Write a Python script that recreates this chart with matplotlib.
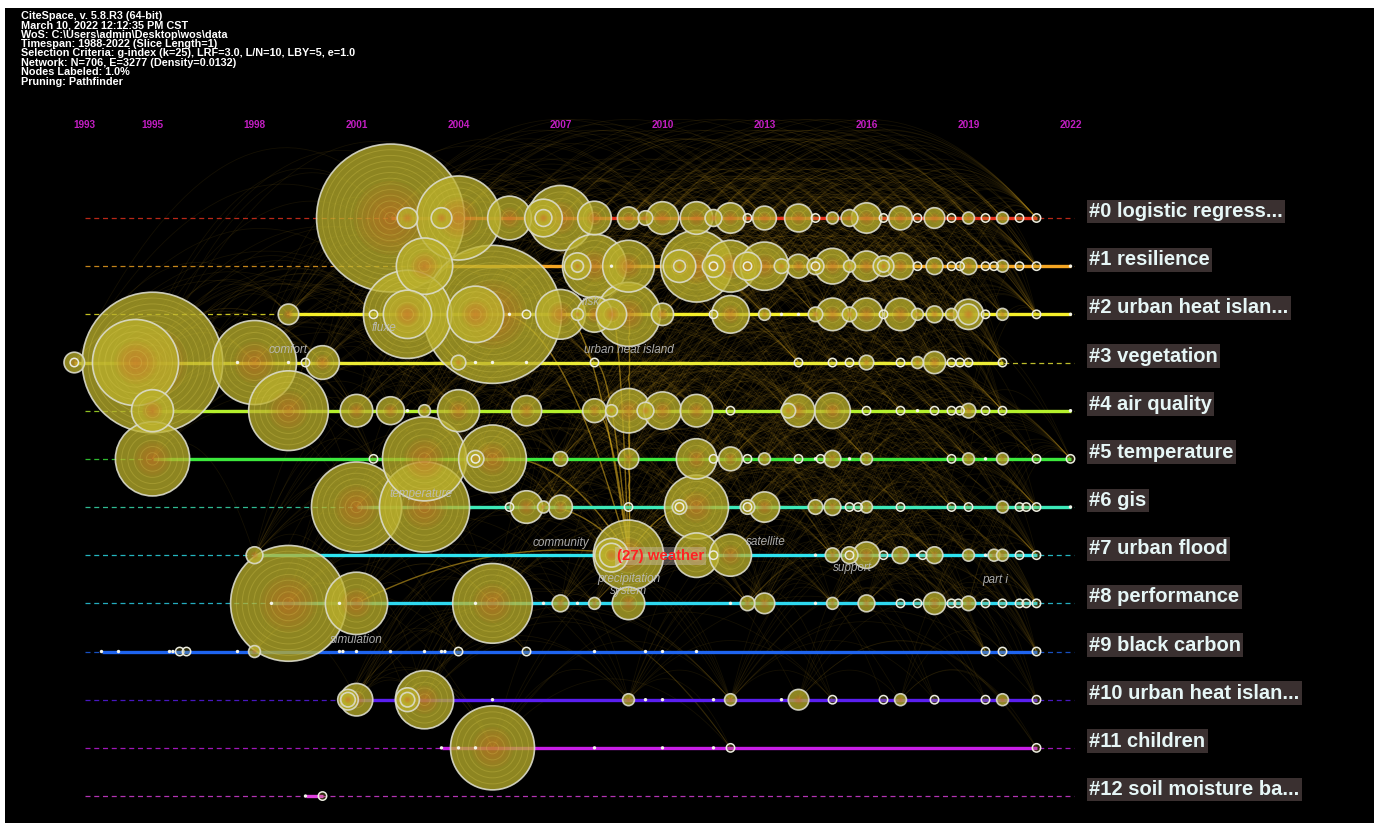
import numpy as np
import matplotlib.pyplot as plt
from matplotlib.patches import Ellipse
from matplotlib.collections import LineCollection

plt.rcParams['font.family'] = ['Liberation Sans', 'DejaVu Sans']

header = [
    "CiteSpace, v. 5.8.R3 (64-bit)",
    "March 10, 2022 12:12:35 PM CST",
    "WoS: C:\\Users\\admin\\Desktop\\wos\\data",
    "Timespan: 1988-2022 (Slice Length=1)",
    "Selection Criteria: g-index (k=25), LRF=3.0, L/N=10, LBY=5, e=1.0",
    "Network: N=706, E=3277 (Density=0.0132)",
    "Nodes Labeled: 1.0%",
    "Pruning: Pathfinder",
]

tick_years = [1993, 1995, 1998, 2001, 2004, 2007, 2010, 2013, 2016, 2019, 2022]

cluster_labels = [
    "#0 logistic regress...", "#1 resilience", "#2 urban heat islan...",
    "#3 vegetation", "#4 air quality", "#5 temperature", "#6 gis",
    "#7 urban flood", "#8 performance", "#9 black carbon",
    "#10 urban heat islan...", "#11 children", "#12 soil moisture ba...",
]

# publication year and citation count of each node, per cluster
years0 = [2002, 2002.5, 2003.5, 2004, 2005.5, 2006.5, 2006.5, 2007, 2008, 2009, 2009.5, 2010,
          2011, 2011.5, 2012, 2012.5, 2013, 2014, 2014.5, 2015, 2015.5, 2016, 2016.5, 2017,
          2017.5, 2018, 2018.5, 2019, 2019.5, 2020, 2020.5, 2021]
cites0 = [310, 6, 6, 100, 27, 20, 4, 60, 16, 7, 3, 15, 15, 4, 13, 1, 8, 11, 1, 2, 4, 13, 1, 8,
          1, 6, 1, 2, 1, 2, 1, 1]

years1 = [2003, 2007.5, 2007.5, 2008, 2008.5, 2009, 2010.5, 2010.5, 2011, 2011.5, 2011.5, 2012,
          2012.5, 2012.5, 2013, 2013.5, 2014, 2014.5, 2014.5, 2015, 2015.5, 2016, 2016.5, 2016.5,
          2017, 2017.5, 2018, 2018.5, 2018.75, 2019, 2019.5, 2019.75, 2020, 2020.5, 2021, 2022]
cites1 = [45, 10, 2, 58, 0, 38, 15, 2, 73, 7, 1, 38, 11, 1, 33, 3, 8, 4, 1, 18, 2, 13, 6, 2,
          10, 1, 4, 1, 1, 4, 1, 1, 2, 1, 1, 0]

years2 = [1999, 2001.5, 2002.5, 2002.5, 2004.5, 2005, 2005.5, 2006, 2007, 2007.5, 2008, 2008.5,
          2009, 2010, 2011.5, 2012, 2013, 2013.5, 2014, 2014.5, 2015, 2015.5, 2016, 2016.5,
          2017, 2017.5, 2018, 2018.5, 2019, 2019, 2019.5, 2020, 2021, 2022]
cites2 = [6, 1, 110, 33, 45, 270, 0, 1, 35, 2, 18, 13, 58, 7, 1, 20, 2, 0, 0, 3, 15, 3, 15, 1,
          15, 2, 4, 2, 13, 6, 1, 2, 1, 0]

years3 = [1992.7, 1992.7, 1994.5, 1995, 1997.5, 1998, 1999, 1999.5, 2000, 2004, 2004.5, 2005,
          2006, 2008, 2014, 2015, 2015.5, 2016, 2017, 2017.5, 2018, 2018.5, 2018.75, 2019, 2020]
cites3 = [6, 1, 105, 280, 0, 100, 0, 1, 16, 3, 0, 0, 0, 1, 1, 1, 1, 3, 1, 2, 7, 1, 1, 1, 1]

years4 = [1995, 1999, 2001, 2002, 2002.5, 2003, 2004, 2006, 2008, 2008.5, 2009, 2009.5, 2010,
          2011, 2012, 2013.7, 2014, 2015, 2016, 2017, 2017.5, 2018, 2018.5, 2018.75, 2019,
          2019.5, 2020, 2022]
cites4 = [25, 90, 15, 11, 0, 2, 25, 13, 8, 2, 28, 4, 20, 15, 1, 3, 15, 18, 1, 1, 0, 1, 1, 1, 3,
          1, 1, 0]

years5 = [1995, 2001.5, 2003, 2004.5, 2004.5, 2005, 2007, 2009, 2011, 2011.5, 2012, 2012.5,
          2013, 2014, 2014.5, 2014.65, 2015, 2015.5, 2016, 2018.5, 2019, 2019.5, 2020, 2021, 2022]
cites5 = [78, 1, 100, 4, 1, 65, 3, 6, 23, 1, 8, 1, 2, 1, 0, 1, 4, 0, 2, 1, 2, 0, 2, 1, 1]

years6 = [2001, 2003, 2005.5, 2006, 2006.5, 2007, 2009, 2010.5, 2010.5, 2011, 2012.5, 2012.5,
          2013, 2014.5, 2015, 2015.5, 2015.75, 2016, 2017, 2018.5, 2019, 2020, 2020.5, 2020.7,
          2021, 2022]
cites6 = [115, 115, 1, 15, 2, 8, 1, 3, 1, 58, 3, 1, 13, 3, 4, 1, 1, 2, 1, 1, 1, 2, 1, 1, 1, 0]

years7 = [1998, 2008.5, 2008.5, 2009, 2011, 2011.5, 2012, 2014.5, 2015, 2015.5, 2015.5, 2016,
          2016.5, 2017, 2017.5, 2017.65, 2018, 2019, 2019.5, 2019.75, 2020, 2020.5, 2021]
cites7 = [4, 16, 8, 70, 28, 1, 25, 0, 3, 4, 1, 10, 1, 4, 0, 1, 4, 2, 0, 2, 2, 1, 1]

years8 = [1998.5, 1999, 2000.5, 2001, 2004.5, 2005, 2006.5, 2007, 2007.5, 2008, 2009, 2012,
          2012.5, 2013, 2014.5, 2015, 2016, 2017, 2017.5, 2018, 2018.5, 2018.7, 2019, 2019.5,
          2020, 2020.5, 2020.7, 2021]
cites8 = [0, 190, 0, 55, 0, 90, 0, 4, 0, 2, 15, 0, 3, 6, 0, 2, 4, 1, 1, 7, 1, 1, 3, 1, 1, 1, 1, 1]

years9 = [1993.5, 1994, 1995.5, 1995.6, 1995.8, 1996, 1997.5, 1998, 2000.5, 2000.6, 2001, 2002,
          2003, 2003.5, 2003.6, 2004, 2006, 2008, 2009.5, 2010, 2011, 2019.5, 2020, 2021]
cites9 = [0, 0, 0, 0, 1, 1, 0, 2, 0, 0, 0, 0, 0, 0, 0, 1, 1, 0, 0, 0, 0, 1, 1, 1]

years10 = [2000.75, 2000.75, 2001, 2002.5, 2002.5, 2003, 2005, 2009, 2009.5, 2010, 2011.5, 2012,
           2013.5, 2014, 2015, 2016.5, 2017, 2018, 2019.5, 2020, 2021]
cites10 = [6, 3, 15, 8, 3, 48, 0, 2, 0, 0, 0, 2, 0, 6, 1, 1, 2, 1, 1, 2, 1]

years11 = [2003.5, 2004, 2004.5, 2005, 2008, 2010, 2011.5, 2012, 2021]
cites11 = [0, 0, 0, 100, 0, 0, 0, 1, 1]

years12 = [1999.5, 2000]
cites12 = [0, 1]

clusters = [(years0, cites0), (years1, cites1), (years2, cites2), (years3, cites3),
            (years4, cites4), (years5, cites5), (years6, cites6), (years7, cites7),
            (years8, cites8), (years9, cites9), (years10, cites10), (years11, cites11),
            (years12, cites12)]
for ys, cs in clusters:
    assert len(ys) == len(cs)

# node terms shown on the map: (text, year, row)
terms = [("comfort", 1999.0, 2.74), ("fluxe", 2001.8, 2.28), ("risk", 2007.9, 1.74),
         ("urban heat island", 2009.0, 2.74), ("temperature", 2002.9, 5.73),
         ("community", 2007.0, 6.75), ("satellite", 2013.05, 6.73),
         ("precipitation", 2009.0, 7.49), ("system", 2009.0, 7.74),
         ("support", 2015.6, 7.27), ("part i", 2019.8, 7.52), ("simulation", 2001.0, 8.76)]

# strongest co-citation links of the weather node: (row, year) pairs
weather_node = (7, 2009)
weather_links = [(2, 2008.5), (2, 2009), (3, 2008), (2, 2005), (4, 2008), (5, 2005),
                 (6, 2006), (8, 2001), (6, 2011), (4, 2009), (2, 2007)]

line_colors = ['#e8321e', '#f5a623', '#f5f02a', '#ecec36', '#b4f02c', '#3ce83c', '#3ce8b8',
               '#2ee4f0', '#2ed8f0', '#1e64f0', '#5a1ef0', '#c81ee6', '#e040e0']

# ---- geometry (pixels) ----
W, H = 1374, 823
PX_YEAR = 34.0
PX_ROW = 48.17
X1995 = 152.5
ROW0_Y = 218.0


def px2year(px):
    return 1995 + (px - X1995) / PX_YEAR


def py2row(py):
    return (py - ROW0_Y) / PX_ROW


fig = plt.figure(figsize=(W / 100, H / 100), dpi=100, facecolor='white')
ax = fig.add_axes([5 / W, 0, (W - 5) / W, (H - 8) / H])
ax.set_facecolor('black')
ax.set_xlim(px2year(5), px2year(W))
ax.set_ylim(py2row(H), py2row(8))
ax.set_xticks([])
ax.set_yticks([])
for s in ax.spines.values():
    s.set_visible(False)


def circ(x, row, r, **kw):
    return Ellipse((x, row), 2 * r / PX_YEAR, 2 * r / PX_ROW, **kw)


def radius(c):
    return 4.2 * np.sqrt(c)


def arc(x1, r1, x2, r2, bend):
    cx = (x1 + x2) / 2
    cy = min(r1, r2) - bend * abs(x2 - x1) * PX_YEAR / PX_ROW
    t = np.linspace(0, 1, 40)[:, None]
    p0, p1, p2 = np.array([x1, r1]), np.array([cx, cy]), np.array([x2, r2])
    return (1 - t) ** 2 * p0 + 2 * (1 - t) * t * p1 + t ** 2 * p2


# ---- background co-citation links ----
nodes = [(i, y, c) for i, (ys, cs) in enumerate(clusters) for y, c in zip(ys, cs)]
pairs = set()
for i, y, c in nodes:
    if c < 2:
        continue
    for j in range(max(0, i - 3), min(len(clusters), i + 3)):
        cand = [yb for jb, yb, cb in nodes if jb == j and cb >= 1 and yb > y + 1.5]
        for gap in (3, 6, 10):
            if cand:
                yb = min(cand, key=lambda v: abs(v - y - gap))
                if abs(yb - y - gap) <= 1.5:
                    pairs.add((y, i, yb, j))
segs = [arc(y, i, yb, j, 0.58) for y, i, yb, j in pairs]
ax.add_collection(LineCollection(segs, colors='#b88e1e', linewidths=0.6, alpha=0.11, zorder=1))

wsegs = [arc(weather_node[1], weather_node[0], yr, rw, 0.08) for rw, yr in weather_links]
ax.add_collection(LineCollection(wsegs, colors='#e0b020', linewidths=1.0, alpha=0.55, zorder=1.5))

# ---- timelines ----
for i, (ys, cs) in enumerate(clusters):
    col = line_colors[i]
    ax.plot([1993, 2022.1], [i, i], color=col, lw=0.9, ls=(0, (4, 3)), alpha=0.8, zorder=2)
    ax.plot([min(ys), max(ys)], [i, i], color=col, lw=2.4, solid_capstyle='butt', zorder=3)

# ---- nodes, largest first ----
for i, y, c in sorted(nodes, key=lambda n: -n[2]):
    if c == 0:
        ax.add_patch(circ(y, i, 1.7, fc='#f4f4ea', ec='none', zorder=5))
        continue
    r = radius(c)
    if c == 1:
        ax.add_patch(circ(y, i, r, fc=(0.7, 0.66, 0.16, 0.25), ec='#ecece0', lw=1.1, zorder=5))
        continue
    ax.add_patch(circ(y, i, r, fc='#bab02c', alpha=0.76, ec='none', zorder=5))
    n = 9
    for k in range(n):
        ax.add_patch(circ(y, i, r * 0.5 * (1 - k / n), fc='#dc5e2a', alpha=0.055, ec='none', zorder=5))
    m = int(r / 5.5)
    for k in range(1, m):
        ax.add_patch(circ(y, i, r * k / m, fill=False, ec='#e4d45a', alpha=0.25, lw=0.7, zorder=5))
    ax.add_patch(circ(y, i, r, fill=False, ec='#dcdccc', alpha=0.9, lw=1.2, zorder=5))

# ---- text ----
for txt, yr, rw in terms:
    ax.text(yr, rw, txt, color='#bdbdbd', fontsize=8.5, style='italic', ha='center',
            va='center', alpha=0.9, zorder=8)

ax.text(2008.66, 7.02, "(27) weather", color='#ff2222', fontsize=10.8, fontweight='bold',
        ha='left', va='center', zorder=9,
        bbox=dict(boxstyle='square,pad=0.15', fc=(0.85, 0.8, 0.8, 0.35), ec='none'))

for yr in tick_years:
    ax.text(yr, py2row(125), str(yr), color='#c21ec2', fontsize=7.2, fontweight='bold',
            ha='center', va='center', zorder=9)

for i, lab in enumerate(cluster_labels):
    ax.text(px2year(1089), i - 0.135, lab, color='#e6f6f6', fontsize=14.5, fontweight='bold',
            ha='left', va='center', zorder=9,
            bbox=dict(boxstyle='square,pad=0.12', fc='#3a3030', ec='none'))

for k, line in enumerate(header):
    fig.text(21 / W, 1 - (16 + 9.36 * k) / H, line, color='white', fontsize=7.8,
             fontweight='bold', ha='left', va='center')

fig.savefig('out.png', dpi=100, facecolor=fig.get_facecolor())
